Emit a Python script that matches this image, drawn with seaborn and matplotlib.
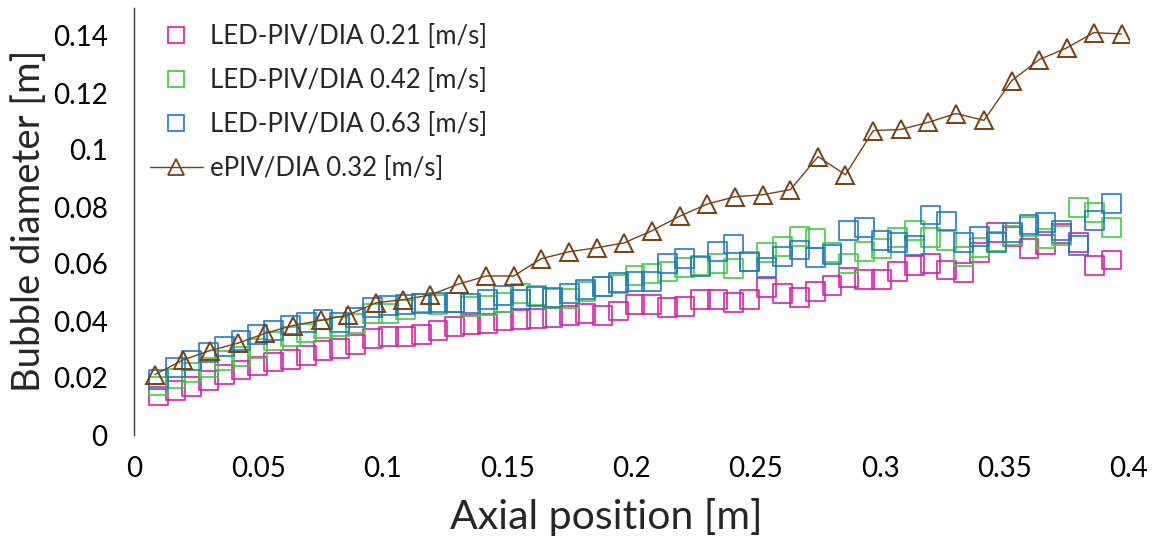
import matplotlib
matplotlib.use("Agg")
import matplotlib.pyplot as plt
from matplotlib.lines import Line2D
import seaborn as sns
import pandas as pd

# ---------------- data ----------------
x_led = [0.0100, 0.0166, 0.0232, 0.0298, 0.0364, 0.0430, 0.0496, 0.0562, 0.0628, 0.0694,
         0.0760, 0.0826, 0.0892, 0.0958, 0.1024, 0.1090, 0.1156, 0.1222, 0.1288, 0.1354,
         0.1420, 0.1486, 0.1552, 0.1618, 0.1684, 0.1750, 0.1816, 0.1882, 0.1948, 0.2014,
         0.2080, 0.2146, 0.2212, 0.2278, 0.2344, 0.2410, 0.2476, 0.2542, 0.2608, 0.2674,
         0.2740, 0.2806, 0.2872, 0.2938, 0.3004, 0.3070, 0.3136, 0.3202, 0.3268, 0.3334,
         0.3400, 0.3466, 0.3532, 0.3598, 0.3664, 0.3730, 0.3796, 0.3862, 0.3928]

y_021 = [0.0137, 0.0156, 0.0170, 0.0191, 0.0213, 0.0228, 0.0242, 0.0256, 0.0266, 0.0280,
         0.0296, 0.0304, 0.0318, 0.0338, 0.0345, 0.0345, 0.0354, 0.0368, 0.0380, 0.0389,
         0.0392, 0.0400, 0.0404, 0.0410, 0.0413, 0.0418, 0.0427, 0.0420, 0.0435, 0.0457,
         0.0459, 0.0448, 0.0450, 0.0474, 0.0474, 0.0464, 0.0474, 0.0517, 0.0497, 0.0482,
         0.0503, 0.0523, 0.0552, 0.0547, 0.0547, 0.0573, 0.0594, 0.0602, 0.0579, 0.0570,
         0.0641, 0.0709, 0.0695, 0.0654, 0.0669, 0.0706, 0.0675, 0.0594, 0.0614]

y_042 = [0.0172, 0.0199, 0.0220, 0.0236, 0.0260, 0.0275, 0.0304, 0.0330, 0.0347, 0.0358,
         0.0372, 0.0380, 0.0390, 0.0427, 0.0427, 0.0440, 0.0463, 0.0457, 0.0464, 0.0450,
         0.0453, 0.0465, 0.0495, 0.0490, 0.0480, 0.0480, 0.0503, 0.0520, 0.0530, 0.0559,
         0.0567, 0.0573, 0.0587, 0.0595, 0.0601, 0.0585, 0.0610, 0.0641, 0.0661, 0.0695,
         0.0688, 0.0640, 0.0602, 0.0643, 0.0653, 0.0692, 0.0718, 0.0692, 0.0682, 0.0626,
         0.0657, 0.0680, 0.0699, 0.0732, 0.0688, 0.0700, 0.0798, 0.0781, 0.0729]

y_063 = [0.0195, 0.0238, 0.0262, 0.0289, 0.0309, 0.0331, 0.0354, 0.0368, 0.0386, 0.0396,
         0.0405, 0.0396, 0.0412, 0.0447, 0.0454, 0.0459, 0.0460, 0.0464, 0.0464, 0.0460,
         0.0476, 0.0488, 0.0476, 0.0486, 0.0482, 0.0497, 0.0512, 0.0520, 0.0536, 0.0540,
         0.0540, 0.0602, 0.0620, 0.0592, 0.0643, 0.0670, 0.0607, 0.0587, 0.0626, 0.0649,
         0.0622, 0.0634, 0.0717, 0.0727, 0.0684, 0.0675, 0.0664, 0.0772, 0.0751, 0.0674,
         0.0695, 0.0674, 0.0710, 0.0740, 0.0745, 0.0716, 0.0666, 0.0753, 0.0813]

x_epiv = [0.0084, 0.0196, 0.0305, 0.0417, 0.0528, 0.0638, 0.0750, 0.0861, 0.0973, 0.1083,
          0.1190, 0.1306, 0.1417, 0.1527, 0.1638, 0.1750, 0.1860, 0.1970, 0.2083, 0.2194,
          0.2304, 0.2415, 0.2527, 0.2639, 0.2750, 0.2860, 0.2972, 0.3082, 0.3193, 0.3304,
          0.3417, 0.3528, 0.3639, 0.3749, 0.3859, 0.3970]
y_epiv = [0.0212, 0.0263, 0.0296, 0.0322, 0.0357, 0.0384, 0.0402, 0.0421, 0.0464, 0.0475,
          0.0491, 0.0530, 0.0558, 0.0558, 0.0619, 0.0643, 0.0657, 0.0674, 0.0717, 0.0768,
          0.0810, 0.0836, 0.0843, 0.0861, 0.0977, 0.0913, 0.1068, 0.1072, 0.1097, 0.1128,
          0.1104, 0.1243, 0.1317, 0.1358, 0.1412, 0.1407]

labels = ["LED-PIV/DIA 0.21 [m/s]", "LED-PIV/DIA 0.42 [m/s]",
          "LED-PIV/DIA 0.63 [m/s]", "ePIV/DIA 0.32 [m/s]"]
colors = ["#D81BA6", "#3DCB3D", "#1C78C8", "#7A4010"]

x_ticks = [0, 0.05, 0.1, 0.15, 0.2, 0.25, 0.3, 0.35, 0.4]
x_ticklabels = ["0", "0.05", "0.1", "0.15", "0.2", "0.25", "0.3", "0.35", "0.4"]
y_ticks = [0, 0.02, 0.04, 0.06, 0.08, 0.1, 0.12, 0.14]
y_ticklabels = ["0", "0.02", "0.04", "0.06", "0.08", "0.1", "0.12", "0.14"]

# ---------------- figure ----------------
sns.set_style("white")
plt.rcParams["font.family"] = ["Lato", "DejaVu Sans"]

fig = plt.figure(figsize=(11.55, 5.43), dpi=100)
ax = fig.add_axes([134 / 1155, (543 - 435) / 543, 995 / 1155, 427.5 / 543])

led_sets = [y_021, y_042, y_063]
for ys, col in zip(led_sets, colors[:3]):
    df = pd.DataFrame({"x": x_led, "y": ys})
    sns.scatterplot(data=df, x="x", y="y", ax=ax, marker="s", s=185,
                    facecolors="none", edgecolor=col, linewidth=1.3, alpha=0.9,
                    legend=False, zorder=3)

df_e = pd.DataFrame({"x": x_epiv, "y": y_epiv})
sns.lineplot(data=df_e, x="x", y="y", ax=ax, color=colors[3], linewidth=1.0,
             marker="^", markersize=13, markerfacecolor="none",
             markeredgecolor=colors[3], markeredgewidth=1.4, zorder=4,
             legend=False, sort=False)

ax.set_xlim(0, 0.4)
ax.set_ylim(0, 0.15)
ax.set_xticks(x_ticks)
ax.set_xticklabels(x_ticklabels)
ax.set_yticks(y_ticks)
ax.set_yticklabels(y_ticklabels)
ax.tick_params(axis="both", length=0, labelsize=20, colors="black")
ax.tick_params(axis="y", pad=19)
ax.tick_params(axis="x", pad=15)

for side in ["top", "right", "bottom"]:
    ax.spines[side].set_visible(False)
ax.spines["left"].set_color("#404040")
ax.spines["left"].set_linewidth(1.0)

ax.set_xlabel("Axial position [m]", fontsize=29.5, labelpad=12)
ax.xaxis.label.set_x(0.475)
ax.set_ylabel("Bubble diameter [m]", fontsize=27.5, labelpad=4)

handles = [Line2D([], [], ls="none", marker="s", markersize=12, markerfacecolor="none",
                  markeredgecolor=c, markeredgewidth=1.2) for c in colors[:3]]
handles.append(Line2D([], [], color=colors[3], lw=1.0, marker="^", markersize=12,
                      markerfacecolor="none", markeredgecolor=colors[3],
                      markeredgewidth=1.3))
ax.legend(handles, labels, loc="upper left", bbox_to_anchor=(16 / 995, 0.962),
          frameon=False, fontsize=18.5, handlelength=2.05, handletextpad=0.3,
          labelspacing=0.74, borderpad=0, borderaxespad=0)

fig.savefig("out.png", dpi=100)
